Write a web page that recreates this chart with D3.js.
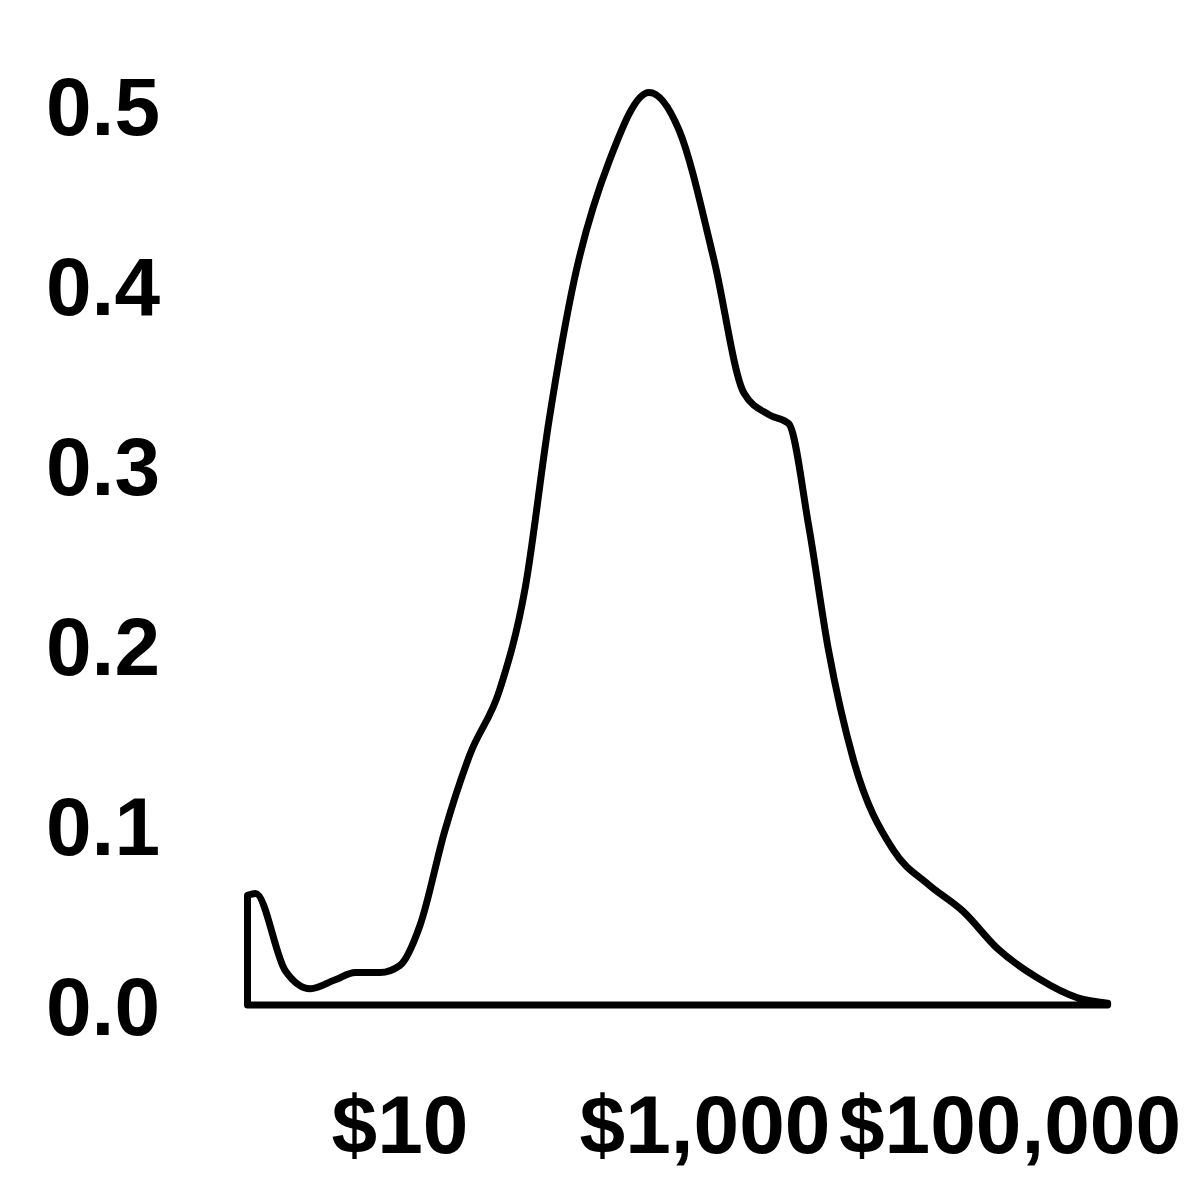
<!DOCTYPE html><html><head><meta charset="utf-8">
<script src="https://cdn.jsdelivr.net/npm/d3@7"></script>
<style>body{margin:0;background:#fff}</style></head><body><svg id="c" width="1200" height="1200"></svg>
<script>
const amounts = [1,1.13,1.77,2.58,3.76,5.08,7.4,10,13.5,19.7,28.7,45,66,95,139,236,430,676,1145,1800,2620,3540,4790,6460,9420,17200,29100,49300,83600,152000,278000,437000];
const density = [0.061,0.062,0.019,0.009,0.014,0.018,0.018,0.022,0.044,0.097,0.139,0.175,0.231,0.325,0.403,0.469,0.507,0.486,0.414,0.34,0.328,0.323,0.266,0.197,0.136,0.086,0.067,0.052,0.031,0.015,0.004,0.001];
const xTicks = [10,1000,100000];
const xTickLabels = ["$10","$1,000","$100,000"];
const yTicks = [0,0.1,0.2,0.3,0.4,0.5];

const svg = d3.select("#c");
const x = d3.scaleLog().domain([10,100000]).range([400,1010]);
const y = d3.scaleLinear().domain([0,0.5]).range([1005,105]);
const pts = amounts.map((a,i)=>[a,density[i]]);
const line = d3.line().x(d=>x(d[0])).y(d=>y(d[1])).curve(d3.curveMonotoneX);
svg.append("path").attr("d", line(pts) + "L" + x(amounts[amounts.length-1]) + "," + y(0) + "L" + x(amounts[0]) + "," + y(0) + "Z")
  .attr("fill","none").attr("stroke","#000").attr("stroke-width",7).attr("stroke-linejoin","round");
svg.selectAll(".yt").data(yTicks).enter().append("text")
  .attr("x",160).attr("y",d=>y(d)).attr("dy","0.36em").attr("text-anchor","end")
  .style("font","bold 82px 'Liberation Sans', Arial, sans-serif").text(d=>d.toFixed(1));
svg.selectAll(".xt").data(xTicks).enter().append("text")
  .attr("x",d=>x(d)).attr("y",1153).attr("text-anchor","middle")
  .style("font","bold 82px 'Liberation Sans', Arial, sans-serif").text((d,i)=>xTickLabels[i]);
</script></body></html>
